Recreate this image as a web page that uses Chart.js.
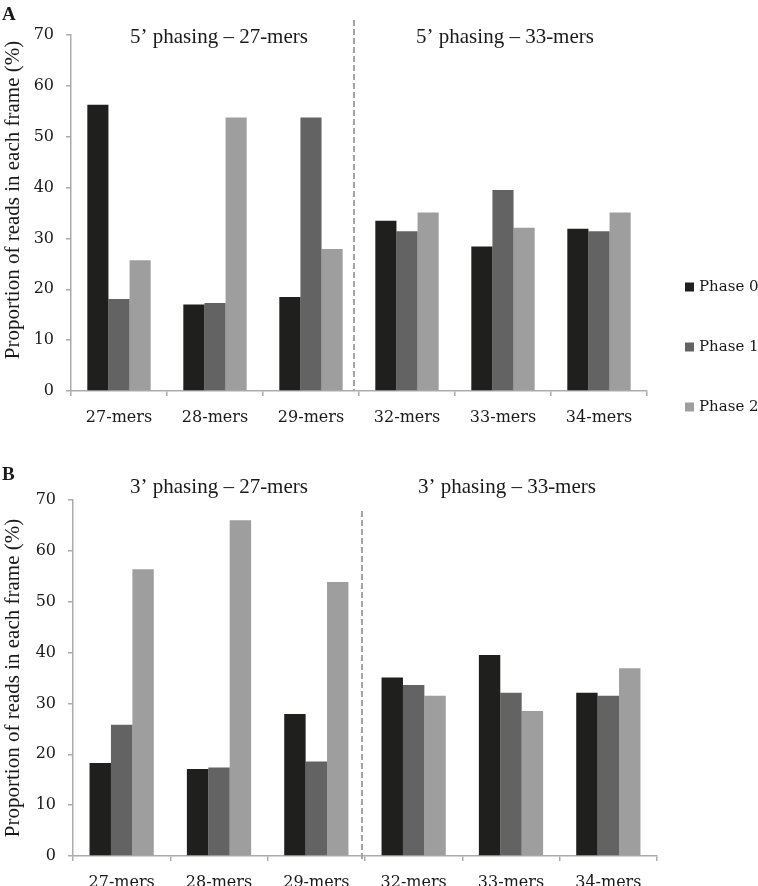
<!DOCTYPE html>
<html>
<head>
<meta charset="utf-8">
<script src="https://cdn.jsdelivr.net/npm/chart.js@4"></script>
<style>
  html, body { margin: 0; padding: 0; background: #fff; overflow: hidden; }
  #wrap { position: relative; width: 758px; height: 886px; overflow: hidden; }
  canvas { position: absolute; left: 0; }
  #chartA { top: 0; }
  #chartB { top: 440px; }
</style>
</head>
<body>
<div id="wrap">
  <canvas id="chartA" width="758" height="440"></canvas>
  <canvas id="chartB" width="758" height="480"></canvas>
</div>
<script>
const categories = ["27-mers", "28-mers", "29-mers", "32-mers", "33-mers", "34-mers"];
const phaseNames = ["Phase 0", "Phase 1", "Phase 2"];
const yMax = 70;
const yStep = 10;

// panel A - 5' phasing
const phase0A = [56.3, 17.0, 18.5, 33.5, 28.4, 31.9];
const phase1A = [18.1, 17.3, 53.8, 31.4, 39.5, 31.4];
const phase2A = [25.7, 53.8, 27.9, 35.1, 32.1, 35.1];
const groupTitlesA = ["5\u2019 phasing \u2013 27-mers", "5\u2019 phasing \u2013 33-mers"];

// panel B - 3' phasing
const phase0B = [18.3, 17.1, 27.9, 35.1, 39.5, 32.1];
const phase1B = [25.8, 17.4, 18.6, 33.6, 32.1, 31.5];
const phase2B = [56.4, 66.0, 53.9, 31.5, 28.5, 36.9];
const groupTitlesB = ["3\u2019 phasing \u2013 27-mers", "3\u2019 phasing \u2013 33-mers"];

const yTitle = "Proportion of reads in each frame (%)";

const barColors = ["#1f1f1e", "#636363", "#9e9e9e"];
const axisColor = "#ababab";
const textColor = "#1a1a1a";
const tickFont = { family: "DejaVu Serif", size: 16 };

// titles, divider, y title, panel letter, legend
const decor = {
  id: "decor",
  afterDraw(chart, args, o) {
    const { ctx, chartArea, scales } = chart;
    const x = scales.x;
    ctx.save();

    ctx.fillStyle = textColor;
    ctx.font = "bold 19px 'Liberation Serif'";
    ctx.textAlign = "left";
    ctx.textBaseline = "alphabetic";
    ctx.fillText(o.letter, 2, o.letterY);

    ctx.font = "21px 'Liberation Serif'";
    ctx.textAlign = "center";
    ctx.fillText(o.groups[0], x.getPixelForValue(1) + o.groupShift[0], o.groupY);
    ctx.fillText(o.groups[1], x.getPixelForValue(4) + o.groupShift[1], o.groupY);

    // dashed divider between the two halves
    const dx = (x.getPixelForValue(2) + x.getPixelForValue(3)) / 2 + o.divShift;
    ctx.strokeStyle = "#a3a3a3";
    ctx.lineWidth = 2;
    ctx.setLineDash([6, 3]);
    ctx.beginPath();
    ctx.moveTo(dx, o.divTop);
    ctx.lineTo(dx, o.divBottom);
    ctx.stroke();
    ctx.setLineDash([]);

    // y title
    const cy = (chartArea.top + chartArea.bottom) / 2 + o.yTitleShift;
    ctx.translate(13, cy);
    ctx.rotate(-Math.PI / 2);
    ctx.textBaseline = "middle";
    ctx.fillText(yTitle, 0, 0);
    ctx.setTransform(1, 0, 0, 1, 0, 0);

    if (o.legend) {
      ctx.font = "15px 'DejaVu Serif'";
      ctx.textAlign = "left";
      ctx.textBaseline = "middle";
      chart.data.datasets.forEach((ds, i) => {
        const ly = o.legend.y + i * o.legend.gap;
        ctx.fillStyle = ds.backgroundColor;
        ctx.fillRect(o.legend.x, ly - 4.5, 9, 9);
        ctx.fillStyle = textColor;
        ctx.fillText(ds.label, o.legend.x + 14, ly);
      });
    }
    ctx.restore();
  },
};

function makeChart(id, series, layout, decorOpts) {
  return new Chart(document.getElementById(id), {
    type: "bar",
    data: {
      labels: categories,
      datasets: series.map((vals, i) => ({
        label: phaseNames[i],
        data: vals,
        backgroundColor: barColors[i],
        borderWidth: 0,
        categoryPercentage: 0.66,
        barPercentage: 1.0,
      })),
    },
    options: {
      responsive: false,
      animation: false,
      layout: { padding: { top: layout.top, right: layout.right, left: 0, bottom: 0 } },
      scales: {
        x: {
          grid: { drawOnChartArea: false, drawTicks: true, tickLength: 5, color: axisColor, lineWidth: 1.5, offset: true },
          border: { display: true, color: axisColor, width: 1.5 },
          ticks: { color: textColor, font: tickFont, padding: 12, maxRotation: 0, autoSkip: false },
          afterFit: (s) => { s.height = layout.xHeight; },
        },
        y: {
          min: 0,
          max: yMax,
          grid: { drawOnChartArea: false, drawTicks: true, tickLength: 5, color: axisColor, lineWidth: 1.5 },
          border: { display: true, color: axisColor, width: 1.5 },
          ticks: { stepSize: yStep, color: textColor, font: tickFont, padding: 12 },
          afterFit: (s) => { s.width = layout.yWidth; },
        },
      },
      plugins: {
        legend: { display: false },
        tooltip: { enabled: false },
        decor: decorOpts,
      },
    },
    plugins: [decor],
  });
}

makeChart("chartA", [phase0A, phase1A, phase2A],
  { top: 35, right: 111, xHeight: 49, yWidth: 71 },
  {
    letter: "A", letterY: 19.5,
    groups: groupTitlesA, groupShift: [4, 2], groupY: 42.5,
    divShift: -5, divTop: 20, divBottom: 391,
    yTitleShift: -13,
    legend: { x: 685, y: 287, gap: 60 },
  });

makeChart("chartB", [phase0B, phase1B, phase2B],
  { top: 60, right: 101, xHeight: 64, yWidth: 73 },
  {
    letter: "B", letterY: 40,
    groups: groupTitlesB, groupShift: [0, -4], groupY: 53,
    divShift: -3, divTop: 71, divBottom: 422,
    yTitleShift: 0,
    legend: null,
  });
</script>
</body>
</html>
